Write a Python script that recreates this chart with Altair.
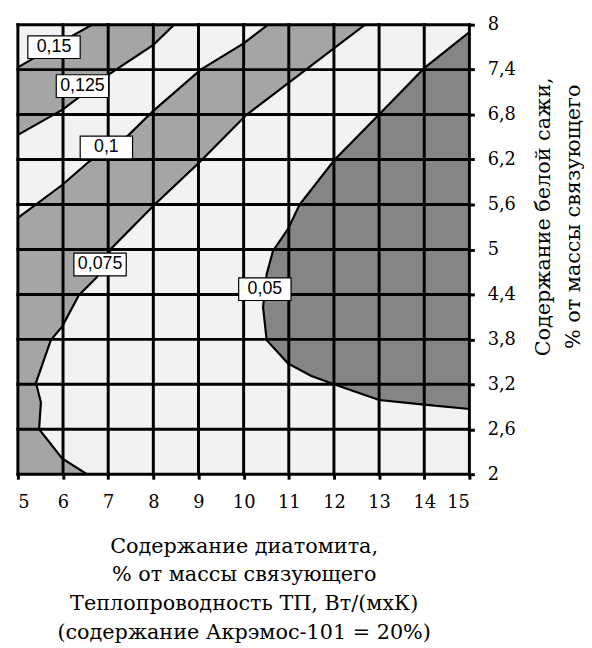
import altair as alt
import pandas as pd

# ---- data ----
grid_x = [5, 6, 7, 8, 9, 10, 11, 12, 13, 14, 15]
grid_y = [2, 2.6, 3.2, 3.8, 4.4, 5, 5.6, 6.2, 6.8, 7.4, 8]

# contour 0.15
c150_x = [5.0, 6.0, 6.64]
c150_y = [7.43, 7.78, 8.0]
# contour 0.125
c125_x = [5.0, 6.0, 7.0, 8.0, 8.46]
c125_y = [6.53, 6.87, 7.33, 7.73, 8.0]
# contour 0.1
c100_x = [5.0, 5.98, 6.57, 7.44, 8.0, 9.05, 10.0, 10.54]
c100_y = [5.42, 5.86, 6.17, 6.52, 6.85, 7.40, 7.75, 8.0]
# contour 0.075
c075_x = [6.53, 5.98, 5.47, 5.51, 5.40, 5.73, 5.98, 6.35, 6.75, 7.08, 8.03, 9.0, 10.07, 11.38, 12.69]
c075_y = [2.0, 2.21, 2.60, 2.96, 3.22, 3.79, 3.97, 4.39, 4.63, 5.02, 5.60, 6.15, 6.80, 7.40, 8.0]
# contour 0.05
c050_x = [15.0, 14.0, 13.0, 12.0, 11.5, 10.98, 10.51, 10.43, 10.51, 10.65, 10.98, 11.24, 12.02, 13.0, 14.0, 15.0]
c050_y = [2.87, 2.93, 2.99, 3.20, 3.31, 3.48, 3.79, 4.23, 4.67, 4.98, 5.27, 5.60, 6.20, 6.80, 7.42, 7.90]

label_text = ["0,15", "0,125", "0,1", "0,075", "0,05"]
label_x = [5.80, 6.43, 6.96, 6.82, 10.47]
label_y = [7.70, 7.18, 6.36, 4.80, 4.47]

x_title = ["Содержание диатомита,", "% от массы связующего",
           "Теплопроводность ТП, Вт/(мхК)", "(содержание Акрэмос-101 = 20%)"]
y_title = ["Содержание белой сажи,", "% от массы связующего"]

LIGHT = "#f2f2f2"
MID = "#a5a5a5"
DARK = "#858585"
SERIF = "DejaVu Serif"

xs = alt.Scale(domain=[5, 15], nice=False, zero=False)
ys = alt.Scale(domain=[2, 8], nice=False, zero=False)

x_axis = alt.Axis(
    values=grid_x, orient="bottom", domain=False, grid=False,
    ticks=True, tickSize=5, tickWidth=3, tickColor="black",
    labelFont=SERIF, labelFontSize=18, labelColor="black", labelPadding=15,
    labelAngle=0,
    title=x_title, titleFont=SERIF, titleFontSize=21, titleFontWeight="normal",
    titleColor="black", titleLineHeight=29, titleBaseline="alphabetic",
    titleY=79,
)
y_axis = alt.Axis(
    values=grid_y, orient="right", domain=False, grid=False,
    ticks=True, tickSize=5, tickWidth=3, tickColor="black",
    labelFont=SERIF, labelFontSize=18, labelColor="black", labelPadding=13,
    labelExpr="replace(toString(datum.value), '.', ',')",
    labelBaseline="middle",
    title=y_title, titleFont=SERIF, titleFontSize=21, titleFontWeight="normal",
    titleColor="black", titleLineHeight=30, titleAngle=270,
    titleBaseline="alphabetic", titleAlign="center",
    titleX=81, titleY=194,
)


def frame(xv, yv, edge=None):
    d = {"x": xv, "y": yv, "i": list(range(len(xv)))}
    if edge is not None:
        d["e"] = [edge] * len(xv)
    return pd.DataFrame(d)


def band(xv, yv, color, edge):
    return alt.Chart(frame(xv, yv, edge)).mark_area(
        orient="horizontal", color=color, opacity=1
    ).encode(
        y=alt.Y("y:Q", scale=ys, axis=y_axis),
        x=alt.X("x:Q", scale=xs, axis=x_axis),
        x2="e:Q",
    )


def cline(xv, yv):
    return alt.Chart(frame(xv, yv)).mark_line(
        color="black", strokeWidth=2.2, clip=True
    ).encode(
        x=alt.X("x:Q", scale=xs, axis=x_axis),
        y=alt.Y("y:Q", scale=ys, axis=y_axis),
        order="i:Q",
    )


bands = [
    band(c075_x, c075_y, MID, 5),
    band(c100_x, c100_y, LIGHT, 5),
    band(c125_x, c125_y, MID, 5),
    band(c150_x, c150_y, LIGHT, 5),
    band(c050_x, c050_y, DARK, 15),
]
lines = [cline(c150_x, c150_y), cline(c125_x, c125_y), cline(c100_x, c100_y),
         cline(c075_x, c075_y), cline(c050_x, c050_y)]

vrules = alt.Chart(pd.DataFrame({"x": grid_x})).mark_rule(
    color="black", strokeWidth=3, strokeCap="square"
).encode(x=alt.X("x:Q", scale=xs, axis=x_axis))

hrules = alt.Chart(pd.DataFrame({"y": grid_y})).mark_rule(
    color="black", strokeWidth=3, strokeCap="square"
).encode(y=alt.Y("y:Q", scale=ys, axis=y_axis))

lab_df = pd.DataFrame({"t": label_text, "x": label_x, "y": label_y})
boxes = alt.Chart(lab_df).mark_rect(
    width=53, height=23, fill="white", stroke="black", strokeWidth=1.2
).encode(
    x=alt.X("x:Q", scale=xs, axis=x_axis),
    y=alt.Y("y:Q", scale=ys, axis=y_axis),
)
texts = alt.Chart(lab_df).mark_text(
    font="Liberation Sans", fontSize=18, color="black",
    baseline="middle", align="center"
).encode(
    x=alt.X("x:Q", scale=xs, axis=x_axis),
    y=alt.Y("y:Q", scale=ys, axis=y_axis),
    text="t:N",
)

chart = alt.layer(*bands, *lines, vrules, hrules, boxes, texts).properties(
    width=457, height=455,
    padding={"left": 10, "top": 13, "right": 116, "bottom": 172},
    autosize=alt.AutoSizeParams(type="none"),
    background="white",
).configure_view(fill=LIGHT, stroke=None)

chart.save("out.html", embed_options={"renderer": "svg", "actions": False})
